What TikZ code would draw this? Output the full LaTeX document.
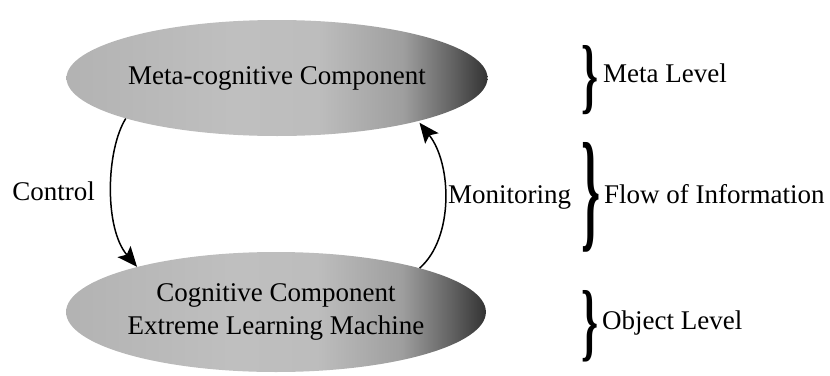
\documentclass[tikz,border=0pt]{standalone}
\usepackage{fontspec}
\setmainfont{Liberation Serif}
\usetikzlibrary{shapes.geometric,arrows.meta}

% grey left-to-right gradient of the two component ellipses
\pgfdeclarehorizontalshading{compshade}{100bp}{%
  color(0bp)=(black!30); color(25bp)=(black!30);
  color(45bp)=(black!25); color(55bp)=(black!26);
  color(65bp)=(black!38); color(71bp)=(black!62);
  color(75bp)=(black!80); color(100bp)=(black!80)}

\tikzset{
  comp/.style={ellipse, shading=compshade, inner sep=0pt,
    minimum width=352pt, minimum height=116pt, align=center,
    font=\fontsize{27}{33}\selectfont},
  lbl/.style={font=\fontsize{27}{33}\selectfont, inner sep=0pt},
  tipshape/.tip={Stealth[length=20pt, width=17pt, inset=4pt]},
  flow/.style={line width=1.5pt, -tipshape},
  lvlbrace/.style={inner sep=0pt, font=\fontsize{27}{33}\selectfont\bfseries}
}

\begin{document}
\begin{tikzpicture}[x=1pt, y=-1pt]
  \useasboundingbox (0,0) rectangle (830,375);

  % the two levels
  \node[comp] (meta) at (277,78) {Meta-cognitive Component};
  \node[comp, minimum height=120pt] (obj) at (276,312)
    {Cognitive Component\\Extreme Learning Machine};

  % control and monitoring flows
  \draw[flow] (meta.195) .. controls (106,150) and (104,228) .. (obj.162);
  \draw[flow, shorten >=2pt] (obj.17) .. controls (454,238) and (452,164) .. (meta.343);

  \node[lbl, anchor=base east] (ctrl) at (95,200) {Control};
  \node[lbl, anchor=base west] (mon) at (448,203) {Monitoring};

  % level braces and their labels
  \node[lvlbrace] (b1) at (590,80)  {\resizebox{17pt}{58pt}{\}}};
  \node[lvlbrace] (b2) at (591,197) {\resizebox{19pt}{92pt}{\}}};
  \node[lvlbrace] (b3) at (590,326) {\resizebox{17pt}{60pt}{\}}};

  \node[lbl, anchor=base west] (mlev) at (603,82)  {Meta Level};
  \node[lbl, anchor=base west] (flev) at (604,203) {Flow of Information};
  \node[lbl, anchor=base west] (olev) at (602,329) {Object Level};
\end{tikzpicture}
\end{document}
